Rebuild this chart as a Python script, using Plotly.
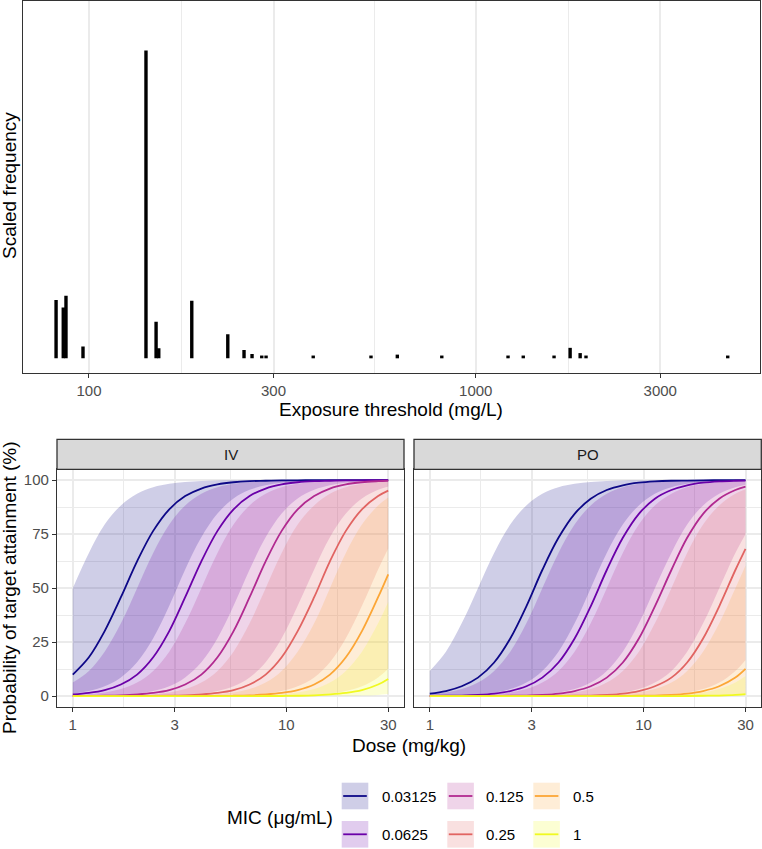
import plotly.graph_objects as go

W, H = 762, 849
FONT = "Liberation Sans, Arial, sans-serif"

# ---------------- top panel data ----------------
thresholds = [82.2, 85.8, 87.2, 96.5, 140.4, 149.1, 151.5, 184.4, 228.5, 251.7, 264, 279.7,
              287, 380, 536, 627, 817, 1212, 1327, 1594, 1754, 1862, 1928, 4483]
scaled_freq = [0.189, 0.165, 0.203, 0.038, 1.0, 0.119, 0.033, 0.187, 0.078, 0.027, 0.014, 0.009,
               0.009, 0.009, 0.009, 0.012, 0.009, 0.009, 0.009, 0.009, 0.034, 0.017, 0.009, 0.009]
top_ticks = [100, 300, 1000, 3000]
top_minor = [173.2, 547.7, 1732]

# ---------------- bottom panels data ----------------
dose = [1, 1.19, 1.41, 1.68, 2, 2.38, 2.83, 3.36, 4, 4.76, 5.66, 6.73, 8, 9.51, 11.3, 13.5,
        16, 19, 22.6, 26.9, 30]
mic_labels = ["0.03125", "0.0625", "0.125", "0.25", "0.5", "1"]
mic_colors = ["#0D0887", "#6A00A8", "#B12A90", "#E16462", "#FCA636", "#F0F921"]
dose_ticks = [1, 3, 10, 30]
dose_minor = [1.732, 5.477, 17.32]
pta_ticks = [0, 25, 50, 75, 100]
pta_minor = [12.5, 37.5, 62.5, 87.5]

iv_median = [
    [10.0, 18.0, 30.1, 45.8, 62.4, 76.5, 86.5, 92.6, 96.1, 98.0, 99.0, 99.5, 99.7, 99.9, 99.9, 100, 100, 100, 100, 100, 100],
    [0.8, 1.5, 2.8, 5.4, 10.0, 18.0, 30.1, 45.8, 62.4, 76.5, 86.5, 92.6, 96.1, 98.0, 99.0, 99.5, 99.7, 99.9, 99.9, 100, 100],
    [0.1, 0.1, 0.2, 0.4, 0.8, 1.5, 2.8, 5.4, 10.0, 18.0, 30.1, 45.8, 62.4, 76.5, 86.5, 92.6, 96.1, 98.0, 99.0, 99.5, 99.7],
    [0, 0, 0, 0, 0.1, 0.1, 0.2, 0.4, 0.8, 1.5, 2.8, 5.4, 10.0, 18.0, 30.1, 45.8, 62.4, 76.5, 86.5, 92.6, 95.1],
    [0, 0, 0, 0, 0, 0, 0, 0, 0.1, 0.1, 0.2, 0.4, 0.8, 1.5, 2.8, 5.4, 10.0, 18.0, 30.1, 45.8, 56.4],
    [0, 0, 0, 0, 0, 0, 0, 0, 0, 0, 0, 0, 0.1, 0.1, 0.2, 0.4, 0.8, 1.5, 2.8, 5.4, 8.0],
]
iv_upper = [
    [50.0, 66.3, 79.4, 88.3, 93.7, 96.7, 98.3, 99.1, 99.6, 99.8, 99.9, 99.9, 100, 100, 100, 100, 100, 100, 100, 100, 100],
    [6.3, 11.7, 20.6, 33.7, 50.0, 66.3, 79.4, 88.3, 93.7, 96.7, 98.3, 99.1, 99.6, 99.8, 99.9, 99.9, 100, 100, 100, 100, 100],
    [0.4, 0.9, 1.7, 3.3, 6.3, 11.7, 20.6, 33.7, 50.0, 66.3, 79.4, 88.3, 93.7, 96.7, 98.3, 99.1, 99.6, 99.8, 99.9, 99.9, 100],
    [0.0, 0.1, 0.1, 0.2, 0.4, 0.9, 1.7, 3.3, 6.3, 11.7, 20.6, 33.7, 50.0, 66.3, 79.4, 88.3, 93.7, 96.7, 98.3, 99.1, 99.4],
    [0, 0, 0, 0, 0.0, 0.1, 0.1, 0.2, 0.4, 0.9, 1.7, 3.3, 6.3, 11.7, 20.6, 33.7, 50.0, 66.3, 79.4, 88.3, 92.0],
    [0, 0, 0, 0, 0, 0, 0, 0, 0.0, 0.1, 0.1, 0.2, 0.4, 0.9, 1.7, 3.3, 6.3, 11.7, 20.6, 33.7, 43.6],
]
iv_lower = [
    [1.2, 2.4, 4.6, 8.7, 15.7, 26.8, 41.8, 58.6, 73.5, 84.5, 91.5, 95.5, 97.6, 98.8, 99.4, 99.7, 99.8, 99.9, 100, 100, 100],
    [0.1, 0.2, 0.3, 0.6, 1.2, 2.4, 4.6, 8.7, 15.7, 26.8, 41.8, 58.6, 73.5, 84.5, 91.5, 95.5, 97.6, 98.8, 99.4, 99.7, 99.8],
    [0, 0, 0, 0, 0.1, 0.2, 0.3, 0.6, 1.2, 2.4, 4.6, 8.7, 15.7, 26.8, 41.8, 58.6, 73.5, 84.5, 91.5, 95.5, 97.0],
    [0, 0, 0, 0, 0, 0, 0, 0, 0.1, 0.2, 0.3, 0.6, 1.2, 2.4, 4.6, 8.7, 15.7, 26.8, 41.8, 58.6, 68.3],
    [0, 0, 0, 0, 0, 0, 0, 0, 0, 0, 0, 0, 0.1, 0.2, 0.3, 0.6, 1.2, 2.4, 4.6, 8.7, 12.7],
    [0, 0, 0, 0, 0, 0, 0, 0, 0, 0, 0, 0, 0, 0, 0, 0, 0.1, 0.2, 0.3, 0.6, 1.0],
]
po_median = [
    [1.2, 2.4, 4.6, 8.6, 15.6, 26.7, 41.6, 58.4, 73.3, 84.4, 91.4, 95.4, 97.6, 98.8, 99.4, 99.7, 99.8, 99.9, 100, 100, 100],
    [0.1, 0.2, 0.3, 0.6, 1.2, 2.4, 4.6, 8.6, 15.6, 26.7, 41.6, 58.4, 73.3, 84.4, 91.4, 95.4, 97.6, 98.8, 99.4, 99.7, 99.8],
    [0, 0, 0, 0, 0.1, 0.2, 0.3, 0.6, 1.2, 2.4, 4.6, 8.6, 15.6, 26.7, 41.6, 58.4, 73.3, 84.4, 91.4, 95.4, 97.0],
    [0, 0, 0, 0, 0, 0, 0, 0, 0.1, 0.2, 0.3, 0.6, 1.2, 2.4, 4.6, 8.6, 15.6, 26.7, 41.6, 58.4, 68.2],
    [0, 0, 0, 0, 0, 0, 0, 0, 0, 0, 0, 0, 0.1, 0.2, 0.3, 0.6, 1.2, 2.4, 4.6, 8.6, 12.6],
    [0, 0, 0, 0, 0, 0, 0, 0, 0, 0, 0, 0, 0, 0, 0, 0, 0.1, 0.2, 0.3, 0.6, 1.0],
]
po_upper = [
    [11.7, 20.6, 33.7, 50.0, 66.3, 79.4, 88.3, 93.7, 96.7, 98.3, 99.1, 99.6, 99.8, 99.9, 99.9, 100, 100, 100, 100, 100, 100],
    [0.9, 1.7, 3.3, 6.3, 11.7, 20.6, 33.7, 50.0, 66.3, 79.4, 88.3, 93.7, 96.7, 98.3, 99.1, 99.6, 99.8, 99.9, 99.9, 100, 100],
    [0.1, 0.1, 0.2, 0.4, 0.9, 1.7, 3.3, 6.3, 11.7, 20.6, 33.7, 50.0, 66.3, 79.4, 88.3, 93.7, 96.7, 98.3, 99.1, 99.6, 99.7],
    [0, 0, 0, 0.0, 0.1, 0.1, 0.2, 0.4, 0.9, 1.7, 3.3, 6.3, 11.7, 20.6, 33.7, 50.0, 66.3, 79.4, 88.3, 93.7, 95.8],
    [0, 0, 0, 0, 0, 0, 0, 0, 0.1, 0.1, 0.2, 0.4, 0.9, 1.7, 3.3, 6.3, 11.7, 20.6, 33.7, 50.0, 60.4],
    [0, 0, 0, 0, 0, 0, 0, 0, 0, 0, 0, 0, 0.1, 0.1, 0.2, 0.4, 0.9, 1.7, 3.3, 6.3, 9.3],
]
po_lower = [
    [0.1, 0.2, 0.4, 0.9, 1.7, 3.3, 6.3, 11.7, 20.6, 33.7, 50.0, 66.3, 79.4, 88.3, 93.7, 96.7, 98.3, 99.1, 99.6, 99.8, 99.9],
    [0, 0, 0.0, 0.1, 0.1, 0.2, 0.4, 0.9, 1.7, 3.3, 6.3, 11.7, 20.6, 33.7, 50.0, 66.3, 79.4, 88.3, 93.7, 96.7, 97.8],
    [0, 0, 0, 0, 0, 0, 0, 0.1, 0.1, 0.2, 0.4, 0.9, 1.7, 3.3, 6.3, 11.7, 20.6, 33.7, 50.0, 66.3, 75.0],
    [0, 0, 0, 0, 0, 0, 0, 0, 0, 0, 0, 0.1, 0.1, 0.2, 0.4, 0.9, 1.7, 3.3, 6.3, 11.7, 16.8],
    [0, 0, 0, 0, 0, 0, 0, 0, 0, 0, 0, 0, 0, 0, 0, 0.1, 0.1, 0.2, 0.4, 0.9, 1.3],
    [0, 0, 0, 0, 0, 0, 0, 0, 0, 0, 0, 0, 0, 0, 0, 0, 0, 0, 0, 0.1, 0.1],
]


def X(px):
    return px / W


def Y(py):
    return 1 - py / H


def rgba(hexc, a):
    h = hexc.lstrip("#")
    return "rgba(%d,%d,%d,%.2f)" % (int(h[0:2], 16), int(h[2:4], 16), int(h[4:6], 16), a)


fig = go.Figure()

# ---------- top panel: segments ----------
xs, ys = [], []
for t, f in zip(thresholds, scaled_freq):
    xs += [t, t, None]
    ys += [0, f, None]
fig.add_trace(go.Scatter(x=xs, y=ys, mode="lines", line=dict(color="black", width=3.4),
                         xaxis="x", yaxis="y", hoverinfo="skip", showlegend=False))

# ---------- bottom panels ----------
panels = [("x2", "y2", iv_median, iv_upper, iv_lower), ("x3", "y3", po_median, po_upper, po_lower)]
for xa, ya, med, up, lo in panels:
    for k, col in enumerate(mic_colors):
        fig.add_trace(go.Scatter(x=dose, y=lo[k], mode="lines", line=dict(width=0, shape="spline"),
                                 xaxis=xa, yaxis=ya, hoverinfo="skip", showlegend=False))
        fig.add_trace(go.Scatter(x=dose, y=up[k], mode="lines", line=dict(width=0, shape="spline"),
                                 fill="tonexty", fillcolor=rgba(col, 0.2),
                                 xaxis=xa, yaxis=ya, hoverinfo="skip", showlegend=False))
for xa, ya, med, up, lo in panels:
    for k, col in enumerate(mic_colors):
        fig.add_trace(go.Scatter(x=dose, y=med[k], mode="lines", line=dict(width=1.8, color=col, shape="spline"),
                                 xaxis=xa, yaxis=ya, name=mic_labels[k], showlegend=False))

GRID = "#EBEBEB"
BORDER = "#333333"
TICKFONT = dict(family=FONT, size=15, color="#4D4D4D")

common_axis = dict(showline=True, mirror=True, linecolor=BORDER, linewidth=1.3,
                   gridcolor=GRID, gridwidth=1.6, zeroline=False, tickfont=TICKFONT)

fig.update_layout(
    width=W, height=H, margin=dict(l=0, r=0, t=0, b=0),
    paper_bgcolor="white", plot_bgcolor="white", showlegend=False,
    font=dict(family=FONT),
    xaxis=dict(domain=[X(22.7), X(760)], anchor="y", type="log", range=[1.8286, 3.735],
               tickmode="array", tickvals=top_ticks, ticktext=[str(v) for v in top_ticks],
               ticks="outside", ticklen=4, tickcolor=BORDER, tickwidth=1.3, showgrid=True,
               minor=dict(tickmode="array", tickvals=top_minor, showgrid=True, gridcolor=GRID, gridwidth=0.8, ticks=""),
               **common_axis),
    yaxis=dict(domain=[Y(373), Y(0.5)], anchor="x", range=[-0.0477, 1.162], showticklabels=False,
               ticks="", showgrid=False, **{k: v for k, v in common_axis.items() if k not in ("gridcolor", "gridwidth")}),
    xaxis2=dict(domain=[X(57), X(404)], anchor="y2", type="log", range=[-0.0739, 1.551],
                tickmode="array", tickvals=dose_ticks, ticktext=[str(v) for v in dose_ticks],
                ticks="outside", ticklen=4, tickcolor=BORDER, tickwidth=1.3, showgrid=True,
                minor=dict(tickmode="array", tickvals=dose_minor, showgrid=True, gridcolor=GRID, gridwidth=0.8, ticks=""),
                **common_axis),
    yaxis2=dict(domain=[Y(707), Y(469.3)], anchor="x2", range=[-5, 105],
                tickmode="array", tickvals=pta_ticks, ticktext=[str(v) for v in pta_ticks],
                ticks="outside", ticklen=4, tickcolor=BORDER, tickwidth=1.3, showgrid=True,
                minor=dict(tickmode="array", tickvals=pta_minor, showgrid=True, gridcolor=GRID, gridwidth=0.8, ticks=""),
                **common_axis),
    xaxis3=dict(domain=[X(414), X(761.3)], anchor="y3", type="log", range=[-0.0739, 1.551],
                tickmode="array", tickvals=dose_ticks, ticktext=[str(v) for v in dose_ticks],
                ticks="outside", ticklen=4, tickcolor=BORDER, tickwidth=1.3, showgrid=True,
                minor=dict(tickmode="array", tickvals=dose_minor, showgrid=True, gridcolor=GRID, gridwidth=0.8, ticks=""),
                **common_axis),
    yaxis3=dict(domain=[Y(707), Y(469.3)], anchor="x3", range=[-5, 105],
                tickmode="array", tickvals=pta_ticks, showticklabels=False, ticks="", showgrid=True,
                minor=dict(tickmode="array", tickvals=pta_minor, showgrid=True, gridcolor=GRID, gridwidth=0.8, ticks=""),
                **common_axis),
)

shapes = []
annotations = []

# strips
for x0, x1, lab in [(57, 404, "IV"), (414, 761.3, "PO")]:
    shapes.append(dict(type="rect", xref="paper", yref="paper", x0=X(x0), x1=X(x1), y0=Y(469.3), y1=Y(439.3),
                       fillcolor="#D9D9D9", line=dict(color=BORDER, width=1.3), layer="above"))
    annotations.append(dict(text=lab, xref="paper", yref="paper", x=X((x0 + x1) / 2), y=Y(454.5),
                            xanchor="center", yanchor="middle", showarrow=False,
                            font=dict(family=FONT, size=15, color="#1A1A1A")))

# axis titles
TITLEFONT = dict(family=FONT, size=19, color="black")
annotations += [
    dict(text="Scaled frequency", xref="paper", yref="paper", x=X(9), y=Y(186), textangle=-90,
         xanchor="center", yanchor="middle", showarrow=False, font=TITLEFONT),
    dict(text="Exposure threshold (mg/L)", xref="paper", yref="paper", x=X(391), y=Y(409),
         xanchor="center", yanchor="middle", showarrow=False, font=TITLEFONT),
    dict(text="Probability of target attainment (%)", xref="paper", yref="paper", x=X(9), y=Y(588),
         textangle=-90, xanchor="center", yanchor="middle", showarrow=False, font=TITLEFONT),
    dict(text="Dose (mg/kg)", xref="paper", yref="paper", x=X(409), y=Y(745),
         xanchor="center", yanchor="middle", showarrow=False, font=TITLEFONT),
    dict(text="MIC (μg/mL)", xref="paper", yref="paper", x=X(225), y=Y(817),
         xanchor="left", yanchor="middle", showarrow=False, font=TITLEFONT),
]

# manual legend (2 rows x 3 columns)
key_x = [341.7, 447.3, 533.3]
lab_x = [380, 484.3, 571]
key_y = [782.7, 821.0]
KS = 26.6
for k, (lab, col) in enumerate(zip(mic_labels, mic_colors)):
    c, r = k // 2, k % 2
    kx, ky = key_x[c], key_y[r]
    shapes.append(dict(type="rect", xref="paper", yref="paper", x0=X(kx), x1=X(kx + KS), y0=Y(ky + KS), y1=Y(ky),
                       fillcolor=rgba(col, 0.2), line=dict(width=0)))
    shapes.append(dict(type="line", xref="paper", yref="paper", x0=X(kx + 1.5), x1=X(kx + KS - 1.5),
                       y0=Y(ky + KS / 2), y1=Y(ky + KS / 2), line=dict(color=col, width=1.8)))
    annotations.append(dict(text=lab, xref="paper", yref="paper", x=X(lab_x[c]), y=Y(ky + KS / 2),
                            xanchor="left", yanchor="middle", showarrow=False,
                            font=dict(family=FONT, size=15, color="black")))

fig.update_layout(shapes=shapes, annotations=annotations)
fig.write_html("out.html")
